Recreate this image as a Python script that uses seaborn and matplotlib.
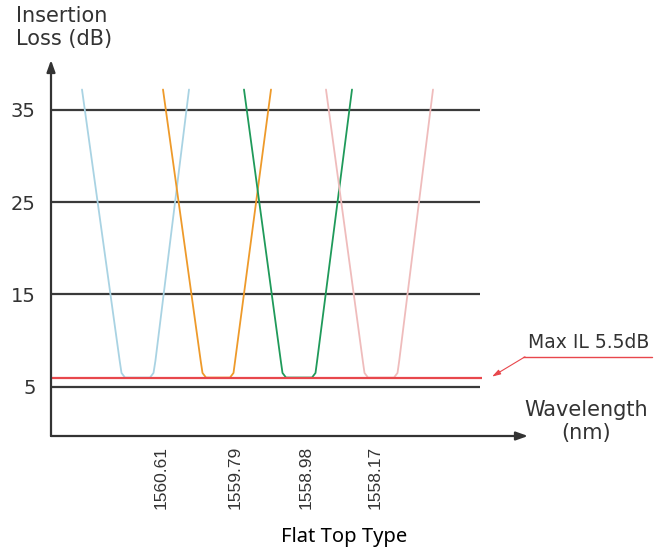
import numpy as np
import pandas as pd
import matplotlib
matplotlib.use("Agg")
import matplotlib.pyplot as plt
import seaborn as sns

# channel curves (x in relative units along the wavelength axis, y in dB)
channels = ["ch1", "ch2", "ch3", "ch4"]
ch1_x = [3.1, 6.87, 7.05, 7.4, 9.9, 10.25, 10.44, 13.8]
ch2_x = [11.2, 14.97, 15.15, 15.5, 17.9, 18.25, 18.41, 22.0]
ch3_x = [19.3, 22.98, 23.15, 23.5, 26.1, 26.45, 26.61, 30.1]
ch4_x = [27.5, 31.18, 31.35, 31.7, 34.3, 34.65, 34.82, 38.2]
profile_y = [37.2, 7.8, 6.5, 6.0, 6.0, 6.5, 7.8, 37.2]
colors = ["#a9d3e3", "#ee9a2a", "#1f9a5a", "#efbcbc"]

grid_levels = [35, 25, 15, 5]
max_il = 6.0
tick_pos = [11.0, 18.4, 25.5, 32.4]
tick_labels = ["1560.61", "1559.79", "1558.98", "1558.17"]

rows = []
for name, xs in zip(channels, [ch1_x, ch2_x, ch3_x, ch4_x]):
    for i, (x, y) in enumerate(zip(xs, profile_y)):
        rows.append({"channel": name, "order": i, "x": x, "y": y})
df = pd.DataFrame(rows)

sns.set_style("white")
plt.rcParams["font.family"] = ["DejaVu Sans"]

dark = "#333333"
fig = plt.figure(figsize=(6.7, 5.54), dpi=100)
ax = fig.add_axes([51 / 670, (554 - 436) / 554, (528 - 51) / 670, (436 - 60) / 554])
ax.set_xlim(0, 47.7)
ax.set_ylim(-0.33, 40.4)

# horizontal reference lines
ax.hlines(grid_levels, 0, 42.9, color="#3a3a3a", lw=1.6, zorder=1)
ax.hlines(max_il, 0, 43.1, color="#e8474c", lw=1.6, zorder=3)

sns.lineplot(data=df, x="x", y="y", hue="channel", units="channel", estimator=None,
             sort=False, palette=colors, lw=1.3, legend=False, ax=ax, zorder=2)

for s in ax.spines.values():
    s.set_visible(False)
arrow = dict(arrowstyle="-|>,head_length=0.7,head_width=0.25", lw=1.6,
             color=dark, shrinkA=0, shrinkB=0)
ax.annotate("", xy=(0, 1), xytext=(0, 0), xycoords="axes fraction", arrowprops=arrow)
ax.annotate("", xy=(1, 0), xytext=(0, 0), xycoords="axes fraction", arrowprops=arrow)

ax.set_yticks(grid_levels)
ax.set_yticklabels([str(v) for v in grid_levels], fontsize=14, color=dark)
ax.tick_params(axis="y", length=0, pad=11)
ax.set_xticks(tick_pos)
ax.set_xticklabels(tick_labels, rotation=90, fontsize=12.5, color=dark,
                   family="Liberation Sans")
ax.tick_params(axis="x", direction="in", length=11, width=1.4, color=dark, pad=7)
ax.set_xlabel("")
ax.set_ylabel("")

fig.text(16 / 670, 1 - 6 / 554, "Insertion\nLoss (dB)", ha="left", va="top",
         fontsize=15, color=dark, linespacing=1.2)
fig.text(586 / 670, 1 - 400 / 554, "Wavelength\n(nm)", ha="center", va="top",
         fontsize=15, color=dark, linespacing=1.2)

# Max IL callout
ax.text(47.7, 8.8, "Max IL 5.5dB", fontsize=13.5, color=dark, ha="left", va="bottom")
ax.plot([47.2, 60.1], [8.25, 8.25], color="#e8474c", lw=1.0, clip_on=False)
ax.annotate("", xy=(44.1, 6.1), xytext=(47.4, 8.25),
            arrowprops=dict(arrowstyle="-|>,head_length=0.5,head_width=0.15",
                            lw=0.8, color="#e8474c", shrinkA=0, shrinkB=0),
            annotation_clip=False)

fig.text(344 / 670, 1 - 537 / 554, "Flat Top Type", ha="center", va="center",
         fontsize=14.5, family="Noto Sans", color="black")

fig.savefig("out.png", dpi=100)
